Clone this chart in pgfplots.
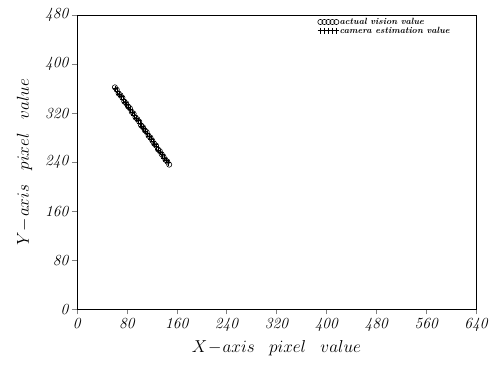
\documentclass[border=0pt]{standalone}
\usepackage{pgfplots}
\pgfplotsset{compat=1.18}
\begin{document}
\begin{tikzpicture}[x=1pt,y=1pt]
\begin{axis}[
  at={(77pt,64pt)},
  scale only axis,
  width=400pt, height=295pt,
  xmin=0, xmax=640, ymin=0, ymax=480,
  xtick={0,80,...,640}, ytick={0,80,...,480},
  tick align=outside, tick pos=left,
  major tick length=5pt,
  /pgf/number format/assume math mode=true,
  ticklabel style={font=\fontsize{15.5}{15.5}\selectfont\itshape},
  xlabel={$X\!-\!axis\;\;\;pixel\;\;\;value$},
  ylabel={$Y\!-\!axis\;\;\;pixel\;\;\;value$},
  label style={font=\fontsize{19}{19}\selectfont},
  xlabel style={yshift=-2pt},
  ylabel style={yshift=6pt},
  axis line style={line width=0.7pt},
  legend style={draw=none, fill=none, at={(0.6,0.995)}, anchor=north west,
    font=\fontsize{9}{9}\selectfont\bfseries\itshape, row sep=0pt, inner sep=1pt,
    nodes={inner sep=0.5pt}},
  legend cell align=left,
  legend image code/.code={%
    \draw[#1] plot coordinates {(0pt,0pt) (4pt,0pt) (8pt,0pt) (12pt,0pt) (16pt,0pt)};},
]
\addplot[black, only marks, mark=o, mark size=2.6pt, line width=0.6pt] coordinates {
(61,362)(64,358)(67,352)(70,349)(73,345)(76,339)(79,336)(82,331)(85,328)(88,322)
(91,319)(94,313)(97,310)(100,306)(103,300)(106,297)(109,292)(112,289)(115,283)(118,280)
(121,275)(124,270)(127,267)(130,261)(133,258)(136,253)(139,249)(142,244)(145,241)(148,236)
};
\addlegendentry{actual vision value}
\addplot[black, only marks, mark=+, mark size=2.8pt, line width=0.7pt] coordinates {
(62,360)(65,356)(68,351)(71,347)(74,343)(77,338)(80,334)(83,330)(86,326)(89,321)
(92,317)(95,312)(98,308)(101,304)(104,299)(107,295)(110,291)(113,287)(116,282)(119,278)
(122,274)(125,269)(128,265)(131,260)(134,256)(137,252)(140,247)(143,243)(146,239)
};
\addlegendentry{camera estimation value}
\end{axis}
\path[use as bounding box] (0,0) rectangle (491,374);
\end{tikzpicture}
\end{document}
